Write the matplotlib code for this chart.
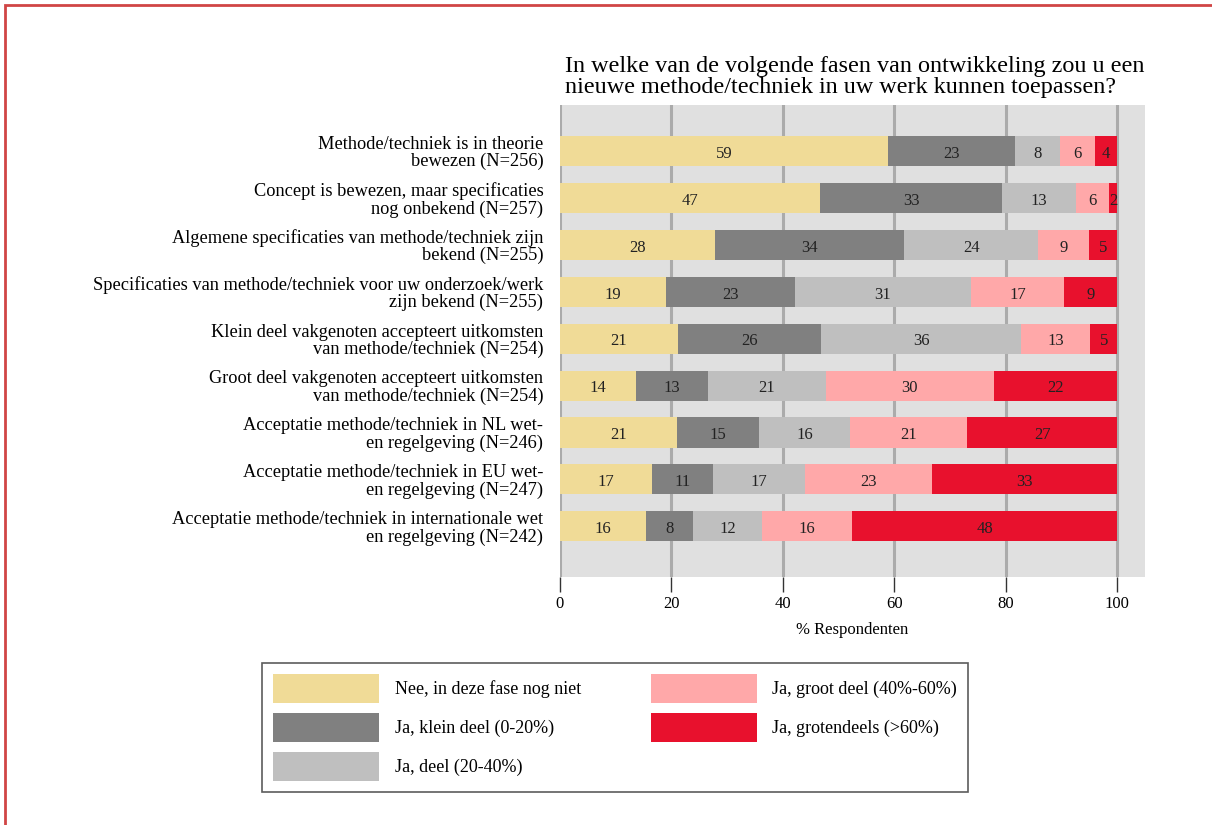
import matplotlib.pyplot as plt
import numpy as np
from matplotlib.patches import Rectangle

plt.rcParams['font.family'] = ['Liberation Serif', 'DejaVu Serif']

# categories (top to bottom)
categories = [
    'Methode/techniek is in theorie\nbewezen (N=256)',
    'Concept is bewezen, maar specificaties\nnog onbekend (N=257)',
    'Algemene specificaties van methode/techniek zijn\nbekend (N=255)',
    'Specificaties van methode/techniek voor uw onderzoek/werk\nzijn bekend (N=255)',
    'Klein deel vakgenoten accepteert uitkomsten\nvan methode/techniek (N=254)',
    'Groot deel vakgenoten accepteert uitkomsten\nvan methode/techniek (N=254)',
    'Acceptatie methode/techniek in NL wet-\nen regelgeving (N=246)',
    'Acceptatie methode/techniek in EU wet-\nen regelgeving (N=247)',
    'Acceptatie methode/techniek in internationale wet\nen regelgeving (N=242)',
]

series_names = [
    'Nee, in deze fase nog niet',
    'Ja, klein deel (0-20%)',
    'Ja, deel (20-40%)',
    'Ja, groot deel (40%-60%)',
    'Ja, grotendeels (>60%)',
]

# percentages per series, one value per category
nee = [58.9, 46.6, 27.8, 19.1, 21.2, 13.7, 21.0, 16.6, 15.5]
klein = [22.8, 32.8, 34.0, 23.1, 25.7, 12.9, 14.8, 10.8, 8.4]
deel = [8.0, 13.2, 24.0, 31.5, 35.8, 21.1, 16.3, 16.6, 12.4]
groot = [6.3, 5.9, 9.1, 16.8, 12.5, 30.2, 21.0, 22.7, 16.1]
grotendeels = [4.0, 1.5, 5.1, 9.5, 4.8, 22.1, 26.9, 33.2, 47.6]

# printed labels
lab_nee = [59, 47, 28, 19, 21, 14, 21, 17, 16]
lab_klein = [23, 33, 34, 23, 26, 13, 15, 11, 8]
lab_deel = [8, 13, 24, 31, 36, 21, 16, 17, 12]
lab_groot = [6, 6, 9, 17, 13, 30, 21, 23, 16]
lab_grotendeels = [4, 2, 5, 9, 5, 22, 27, 33, 48]

colors = ['#F0DB97', '#808080', '#BFBFBF', '#FFA8A9', '#E8112D']

values = [nee, klein, deel, groot, grotendeels]
labels = [lab_nee, lab_klein, lab_deel, lab_groot, lab_grotendeels]

fig = plt.figure(figsize=(12.12, 8.25), dpi=100)
ax = fig.add_axes([560 / 1212, 1 - 577 / 825, 585 / 1212, 472 / 825])
ax.set_facecolor('#E0E0E0')

y = np.arange(len(categories))
left = np.zeros(len(categories))
for vals, labs, col, name in zip(values, labels, colors, series_names):
    vals = np.array(vals)
    ax.barh(y, vals, left=left, height=0.64, color=col, label=name, zorder=3)
    for yi, (l, v, t) in enumerate(zip(left, vals, labs)):
        ax.text(l + v / 2, yi + 0.06, str(t), ha='center', va='center',
                fontsize=12, color='#222222', zorder=4)
    left += vals

ax.set_xlim(0, 105)
ax.set_ylim(len(categories) - 1 + 1.08, -0.98)
ax.set_xticks([0, 20, 40, 60, 80, 100])
ax.xaxis.grid(True, color='#ABABAB', linewidth=2.2, zorder=1)
ax.set_axisbelow(True)
for s in ax.spines.values():
    s.set_visible(False)
ax.tick_params(axis='x', length=11, width=1, color='#333333', labelsize=12, pad=3)
ax.tick_params(axis='y', length=0, labelsize=13.2, pad=12)
ax.set_yticks(y)
ax.set_yticklabels(categories, linespacing=1.0)
ax.set_xlabel('% Respondenten', fontsize=12, labelpad=7)

fig.text(565 / 1212, 1 - 77 / 825,
         'In welke van de volgende fasen van ontwikkeling zou u een\nnieuwe methode/techniek in uw werk kunnen toepassen?',
         fontsize=17.4, ha='left', va='center', linespacing=0.95)

leg = ax.legend(ncol=2, loc='upper left',
                bbox_to_anchor=(262 / 1212, 1 - 793 / 825, 706 / 1212, 130 / 825),
                bbox_transform=fig.transFigure, mode='expand', borderaxespad=0,
                fontsize=13, handlelength=5.9, handleheight=2.1,
                handletextpad=0.85, labelspacing=0.55, columnspacing=3.0,
                borderpad=0.6, fancybox=False, frameon=True)
leg.get_frame().set_edgecolor('#333333')
leg.get_frame().set_linewidth(1.2)

# page border of the source document
fig.add_artist(Rectangle((5 / 1212, -0.05), 1.2, 1.05 - 5 / 825,
                         transform=fig.transFigure, fill=False,
                         edgecolor='#D04545', linewidth=2, clip_on=False))

fig.savefig('out.png', dpi=100)
